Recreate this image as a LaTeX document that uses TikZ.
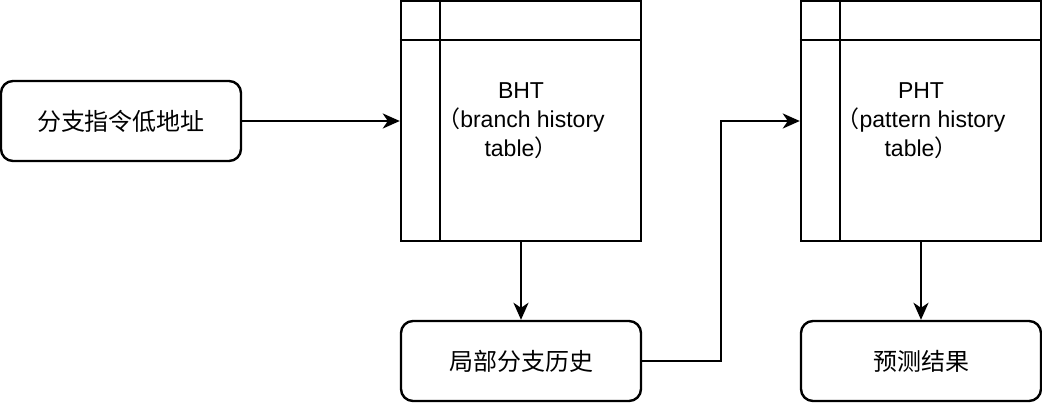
\documentclass[tikz,border=0pt]{standalone}
\usepackage{fontspec}
\setmainfont{Liberation Sans}
\newfontfamily\cjk{Noto Sans CJK SC}
\usetikzlibrary{arrows.meta}
\begin{document}
\begin{tikzpicture}[x=1pt,y=-1pt,
  line width=2.4pt,
  rbox/.style={draw,rounded corners=12pt,minimum width=240pt,minimum height=80pt,inner sep=0pt,font=\cjk\fontsize{24}{28}\selectfont},
  tbox/.style={draw,minimum width=240pt,minimum height=240pt,inner sep=0pt,align=center,font=\fontsize{23}{29}\selectfont},
  arr/.style={-{Stealth[length=17pt,width=15pt,inset=5pt]}}]
\useasboundingbox (0,0) rectangle (1042,402);
\node[rbox] (addr) at (121,121) {分支指令低地址};
\node[tbox] (bht) at (521,121) {BHT\\{\cjk （}branch history\\table{\cjk ）}};
\node[tbox] (pht) at (921,121) {PHT\\{\cjk （}pattern history\\table{\cjk ）}};
\node[rbox] (loc) at (521,361) {局部分支历史};
\node[rbox] (res) at (921,361) {预测结果};
\draw ([xshift=40pt]bht.north west) -- ([xshift=40pt]bht.south west);
\draw ([yshift=-40pt]bht.north west) -- ([yshift=-40pt]bht.north east);
\draw ([xshift=40pt]pht.north west) -- ([xshift=40pt]pht.south west);
\draw ([yshift=-40pt]pht.north west) -- ([yshift=-40pt]pht.north east);
\draw[arr] (addr.east) -- (bht.west);
\draw[arr] (bht.south) -- (loc.north);
\coordinate (mid) at (721,0);
\draw[arr] (loc.east) -| (mid |- pht.west) -- (pht.west);
\draw[arr] (pht.south) -- (res.north);
\end{tikzpicture}
\end{document}
